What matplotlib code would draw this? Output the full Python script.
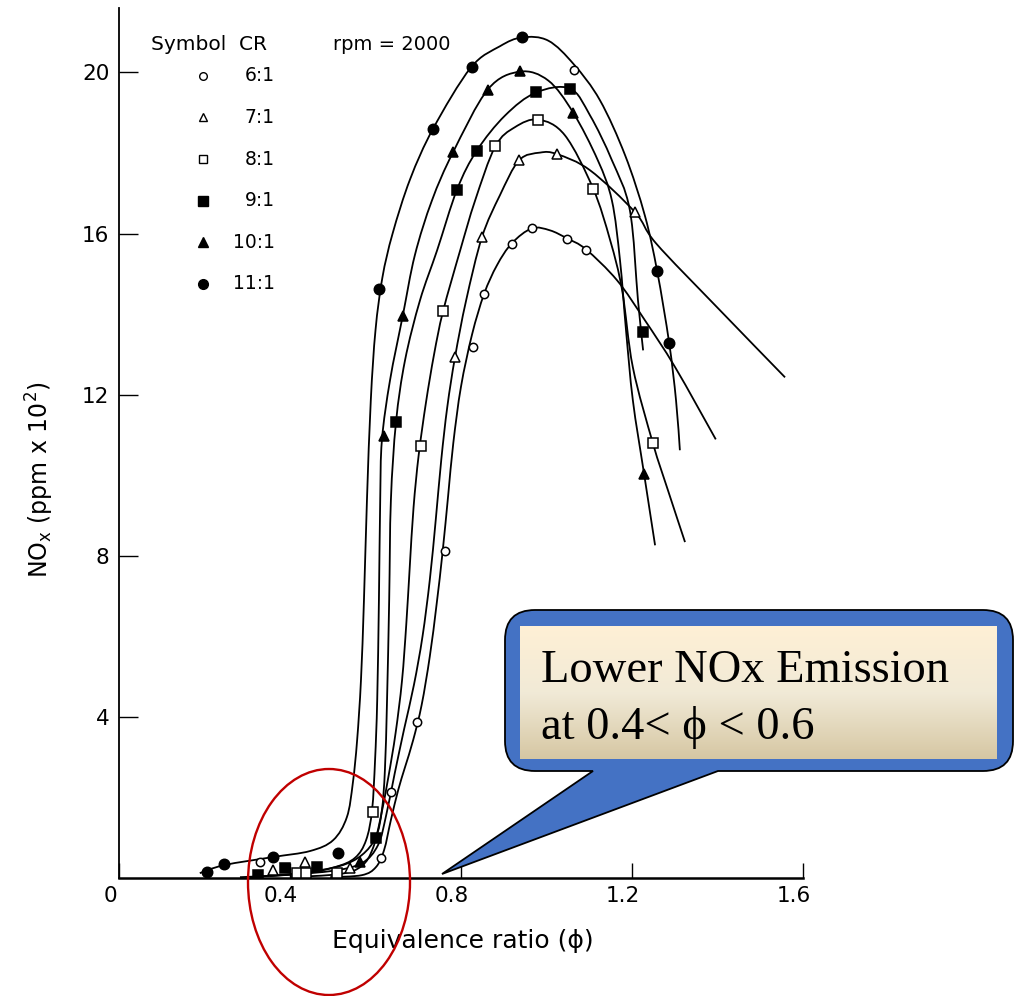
import numpy as np
import matplotlib.pyplot as plt
import matplotlib.transforms as mtransforms
from matplotlib.colors import LinearSegmentedColormap
from matplotlib.patches import Ellipse, PathPatch
from matplotlib.path import Path

plt.rcParams['font.family'] = ['DejaVu Sans']

# compression ratios, in legend order
cr_labels = ['6:1', '7:1', '8:1', '9:1', '10:1', '11:1']

# measured points (equivalence ratio, NOx in ppm x 10^2)
phi_6 = [0.330, 0.614, 0.636, 0.698, 0.763, 0.829, 0.854, 0.919, 0.965, 1.047, 1.092, 1.065]
nox_6 = [0.39, 0.49, 2.14, 3.88, 8.11, 13.18, 14.50, 15.75, 16.15, 15.87, 15.60, 20.05]
phi_7 = [0.361, 0.435, 0.540, 0.786, 0.850, 0.936, 1.024, 1.207]
nox_7 = [0.20, 0.40, 0.24, 12.94, 15.91, 17.82, 17.97, 16.53]
phi_8 = [0.416, 0.437, 0.509, 0.595, 0.706, 0.757, 0.880, 0.981, 1.108, 1.248]
nox_8 = [0.12, 0.13, 0.12, 1.63, 10.72, 14.07, 18.18, 18.83, 17.11, 10.80]
phi_9 = [0.326, 0.388, 0.462, 0.601, 0.648, 0.790, 0.837, 0.975, 1.055, 1.225]
nox_9 = [0.07, 0.24, 0.28, 1.00, 11.32, 17.09, 18.06, 19.51, 19.58, 13.56]
phi_10 = [0.564, 0.621, 0.664, 0.782, 0.864, 0.938, 1.063, 1.229]
nox_10 = [0.40, 10.97, 13.96, 18.02, 19.57, 20.03, 18.99, 10.04]
phi_11 = [0.207, 0.246, 0.360, 0.513, 0.609, 0.735, 0.825, 0.942, 1.258, 1.287]
nox_11 = [0.16, 0.34, 0.51, 0.63, 14.63, 18.60, 20.13, 20.88, 15.07, 13.28]

# hand-drawn fitted curves
fit_phi_6 = [0.494, 0.568, 0.601, 0.620, 0.636, 0.653, 0.669, 0.688, 0.708, 0.727, 0.743, 0.757,
             0.770, 0.782, 0.800, 0.826, 0.854, 0.884, 0.919, 0.966, 1.008, 1.048, 1.092, 1.165,
             1.230, 1.301, 1.396]
fit_nox_6 = [0.02, 0.07, 0.27, 0.69, 1.44, 2.18, 2.75, 3.42, 4.30, 5.50, 6.80, 8.10,
             9.50, 10.80, 12.20, 13.50, 14.50, 15.21, 15.76, 16.13, 16.08, 15.88, 15.61, 14.84,
             13.85, 12.68, 10.89]
fit_phi_7 = [0.353, 0.494, 0.568, 0.606, 0.625, 0.645, 0.667, 0.690, 0.710, 0.727, 0.741, 0.754,
             0.768, 0.786, 0.812, 0.849, 0.891, 0.936, 0.985, 1.025, 1.102, 1.207, 1.256, 1.399,
             1.558]
fit_nox_7 = [0.05, 0.17, 0.37, 0.82, 1.56, 2.60, 3.70, 4.80, 6.00, 7.40, 8.90, 10.40,
             11.70, 12.93, 14.34, 15.91, 16.95, 17.82, 18.01, 17.97, 17.57, 16.53, 15.76, 14.17,
             12.43]
fit_phi_8 = [0.400, 0.517, 0.568, 0.594, 0.612, 0.630, 0.647, 0.662, 0.672, 0.680, 0.689, 0.701,
             0.718, 0.737, 0.758, 0.798, 0.833, 0.880, 0.926, 0.981, 1.043, 1.109, 1.149, 1.177,
             1.202, 1.249, 1.284, 1.324]
fit_nox_8 = [0.02, 0.10, 0.30, 0.74, 1.50, 2.50, 3.60, 4.90, 6.30, 7.70, 9.20, 10.50,
             11.80, 13.00, 14.07, 15.58, 16.82, 18.16, 18.64, 18.83, 18.44, 17.12, 15.83, 14.59,
             12.68, 10.79, 9.63, 8.34]
fit_phi_9 = [0.306, 0.423, 0.517, 0.568, 0.601, 0.615, 0.622, 0.627, 0.632, 0.636, 0.648, 0.669,
             0.704, 0.744, 0.791, 0.837, 0.903, 0.975, 1.055, 1.102, 1.153, 1.195, 1.214, 1.226]
fit_nox_9 = [0.02, 0.12, 0.30, 0.57, 1.02, 1.69, 2.68, 4.42, 6.90, 9.38, 11.32, 12.85,
             14.34, 15.58, 17.10, 18.06, 18.93, 19.50, 19.60, 18.93, 17.82, 16.58, 14.34, 13.10]
fit_phi_10 = [0.283, 0.423, 0.505, 0.552, 0.578, 0.592, 0.599, 0.604, 0.608, 0.611, 0.615, 0.634,
              0.664, 0.692, 0.732, 0.781, 0.863, 0.938, 1.004, 1.062, 1.120, 1.153, 1.172, 1.186,
              1.202, 1.228, 1.254]
fit_nox_10 = [0.02, 0.10, 0.27, 0.50, 0.94, 1.69, 2.93, 4.42, 6.90, 9.38, 10.87, 12.36,
              13.97, 15.46, 16.82, 18.01, 19.58, 20.02, 19.80, 19.01, 17.82, 16.82, 15.33, 13.60,
              11.86, 10.05, 8.26]
fit_phi_11 = [0.189, 0.246, 0.360, 0.447, 0.501, 0.533, 0.547, 0.557, 0.566, 0.573, 0.580, 0.589,
              0.600, 0.616, 0.640, 0.681, 0.735, 0.823, 0.891, 0.943, 1.004, 1.064, 1.125, 1.184,
              1.230, 1.259, 1.287, 1.303, 1.312]
fit_nox_11 = [0.12, 0.32, 0.52, 0.67, 0.94, 1.51, 2.36, 3.42, 4.91, 6.90, 9.38, 11.86,
              13.60, 14.90, 16.00, 17.35, 18.61, 20.12, 20.65, 20.87, 20.79, 20.20, 19.31, 17.94,
              16.45, 15.06, 13.28, 11.86, 10.62]

x_ticks = [0, 0.4, 0.8, 1.2, 1.6]
x_tick_labels = ['0', '0.4', '0.8', '1.2', '1.6']
y_ticks = [4, 8, 12, 16, 20]


def smooth_path(xs, ys):
    """Catmull-Rom style bezier through the read points, so the pen line looks drawn."""
    pts = np.column_stack([xs, ys])
    verts = [pts[0]]
    codes = [Path.MOVETO]
    n = len(pts)
    for i in range(n - 1):
        p0 = pts[max(i - 1, 0)]
        p1 = pts[i]
        p2 = pts[i + 1]
        p3 = pts[min(i + 2, n - 1)]
        verts += [p1 + (p2 - p0) / 6, p2 - (p3 - p1) / 6, p2]
        codes += [Path.CURVE4] * 3
    return Path(verts, codes)


def draw_series(ax):
    """Draw the six fitted curves and their measured points."""
    points = [(phi_6, nox_6), (phi_7, nox_7), (phi_8, nox_8),
              (phi_9, nox_9), (phi_10, nox_10), (phi_11, nox_11)]
    fits = [(fit_phi_6, fit_nox_6), (fit_phi_7, fit_nox_7), (fit_phi_8, fit_nox_8),
            (fit_phi_9, fit_nox_9), (fit_phi_10, fit_nox_10), (fit_phi_11, fit_nox_11)]
    markers = ['o', '^', 's', 's', '^', 'o']
    faces = ['white', 'white', 'white', 'black', 'black', 'black']
    sizes = [6, 6.5, 6.5, 7, 7, 7.5]
    for (fx, fy), (px, py), m, fc, ms in zip(fits, points, markers, faces, sizes):
        ax.add_patch(PathPatch(smooth_path(fx, fy), fill=False, ec='black', lw=1.3, zorder=2))
        ax.plot(px, py, ls='none', marker=m, ms=ms, mfc=fc, mec='black', mew=1.1, zorder=3)

    # symbol table in the upper left
    ax.text(0.047, 0.9575, 'Symbol  CR', transform=ax.transAxes, fontsize=14.5, va='center')
    ax.text(0.313, 0.9575, 'rpm = 2000', transform=ax.transAxes, fontsize=14, va='center')
    for i, label in enumerate(cr_labels):
        y = 0.922 - i * 0.0478
        ax.plot([0.123], [y], transform=ax.transAxes, marker=markers[i], ms=sizes[i] - 0.5,
                mfc=faces[i], mec='black', mew=1.0, ls='none', clip_on=False)
        ax.text(0.228, y, label, transform=ax.transAxes, fontsize=13.5, va='center', ha='right')


def style_axes(ax, fig):
    ax.set_xlim(0, 1.6)
    ax.set_ylim(0, 21.6)
    ax.set_xticks(x_ticks)
    ax.set_xticklabels(x_tick_labels)
    ax.set_yticks(y_ticks)
    ax.tick_params(axis='x', direction='in', length=11, width=1, pad=6, labelsize=15.5)
    ax.tick_params(axis='y', direction='in', length=14, width=1, pad=7, labelsize=15.5)
    for side in ['top', 'right']:
        ax.spines[side].set_visible(False)
    ax.spines['left'].set_linewidth(1.3)
    ax.spines['bottom'].set_linewidth(1.8)
    shift = mtransforms.ScaledTranslation(-9 / 100, 0, fig.dpi_scale_trans)
    for lbl in ax.get_xticklabels():
        lbl.set_transform(lbl.get_transform() + shift)


def draw_callout(fig):
    """Overlay in pixel coordinates: red ellipse and speech bubble."""
    ov = fig.add_axes([0, 0, 1, 1], zorder=5)
    ov.set_xlim(0, 1015)
    ov.set_ylim(996, 0)
    ov.axis('off')

    ov.add_patch(Ellipse((329, 882), 162, 226, fill=False, ec='#C00000', lw=1.7))

    left, right, top, bottom, r = 505, 1013, 610, 771, 30
    verts = [(left + r, top), (right - r, top), (right, top), (right, top + r),
             (right, bottom - r), (right, bottom), (right - r, bottom),
             (718, bottom), (442, 874), (593, bottom),
             (left + r, bottom), (left, bottom), (left, bottom - r),
             (left, top + r), (left, top), (left + r, top), (left + r, top)]
    codes = [Path.MOVETO, Path.LINETO, Path.CURVE3, Path.CURVE3,
             Path.LINETO, Path.CURVE3, Path.CURVE3,
             Path.LINETO, Path.LINETO, Path.LINETO,
             Path.LINETO, Path.CURVE3, Path.CURVE3,
             Path.LINETO, Path.CURVE3, Path.CURVE3, Path.CLOSEPOLY]
    ov.add_patch(PathPatch(Path(verts, codes), fc='#4472C4', ec='black', lw=1.3))

    cmap = LinearSegmentedColormap.from_list('bubble', ['#FFF0D5', '#F1EAD7', '#D6C7A3'])
    ov.imshow(np.linspace(0, 1, 256).reshape(-1, 1), cmap=cmap, aspect='auto',
              extent=(520, 997, 759, 626), origin='upper', interpolation='bilinear', zorder=3)
    ov.set_xlim(0, 1015)
    ov.set_ylim(996, 0)

    serif = ['Liberation Serif', 'DejaVu Serif']
    ov.text(541, 682, 'Lower NOx Emission', family=serif, fontsize=33.5, va='baseline', zorder=4)
    ov.text(541, 739, 'at 0.4< ϕ < 0.6', family=serif, fontsize=33.5, va='baseline', zorder=4)


def main():
    fig = plt.figure(figsize=(10.15, 9.96), dpi=100)
    ax = fig.add_axes([119 / 1015, 118 / 996, 684 / 1015, 870 / 996])
    draw_series(ax)
    style_axes(ax, fig)

    fig.text(40 / 1015, 1 - 480 / 996, 'NO$_\\mathregular{x}$ (ppm x 10$^\\mathregular{2}$)',
             rotation=90, fontsize=17, ha='center', va='center')
    fig.text(463 / 1015, 1 - 941 / 996, 'Equivalence ratio (ϕ)', fontsize=18,
             ha='center', va='center')

    draw_callout(fig)
    fig.savefig('out.png', dpi=100)


if __name__ == "__main__":
    main()
